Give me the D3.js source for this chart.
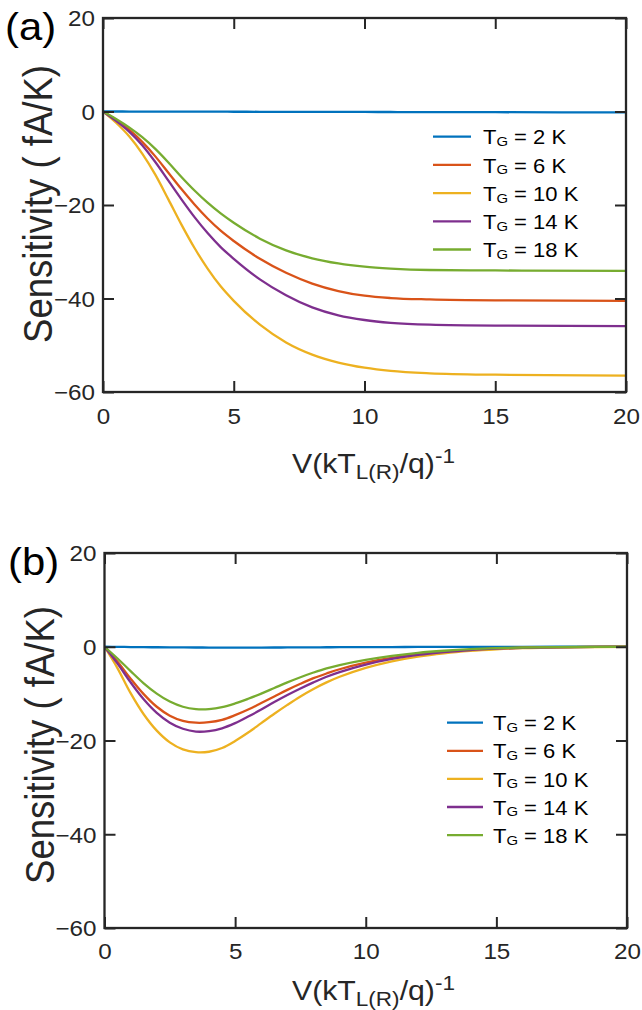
<!DOCTYPE html>
<html>
<head>
<meta charset="utf-8">
<script src="https://cdn.jsdelivr.net/npm/d3@7"></script>
<style>
  body { margin: 0; background: #fff; }
  svg { display: block; }
  text { font-family: "Liberation Sans", Arial, sans-serif; }
</style>
</head>
<body>
<svg id="fig" width="642" height="1010"></svg>
<script>
// ---- data ---------------------------------------------------------------
// gate temperatures shown in the legends
const gateTemps = ["2 K", "6 K", "10 K", "14 K", "18 K"];
const seriesColors = ["#0072BD", "#D95319", "#EDB120", "#7E2F8E", "#77AC30"];

const xTicks = [0, 5, 10, 15, 20];
const yTicks = [20, 0, -20, -40, -60];

// panel (a): normalised bias V(kT/q)^-1 and sensitivity (fA/K)
const biasA = [0, 0.5, 1, 1.5, 2, 2.5, 3, 3.5, 4, 4.5, 5, 6, 7, 8, 9, 10, 11, 12.5, 15, 20];
const sensA_2K  = [0, 0, -0.01, -0.01, -0.02, -0.02, -0.03, -0.03, -0.04, -0.04, -0.05, -0.06, -0.07, -0.08, -0.09, -0.1, -0.11, -0.13, -0.15, -0.2];
const sensA_6K  = [0, -1.8, -3.9, -6.5, -9.6, -13.1, -16.6, -19.9, -22.9, -25.5, -27.7, -31.5, -34.5, -36.8, -38.4, -39.4, -39.9, -40.2, -40.4, -40.5];
const sensA_10K = [0, -2.4, -5.3, -9.0, -13.5, -18.8, -24.2, -29.2, -33.6, -37.4, -40.5, -45.6, -49.4, -52.0, -53.7, -54.8, -55.5, -56.0, -56.3, -56.5];
const sensA_14K = [0, -2.0, -4.3, -7.2, -10.8, -14.8, -18.8, -22.6, -26.0, -29.0, -31.5, -35.9, -39.3, -41.9, -43.6, -44.6, -45.2, -45.6, -45.8, -45.9];
const sensA_18K = [0, -1.6, -3.4, -5.5, -8.0, -10.9, -14.0, -16.9, -19.5, -21.8, -23.8, -27.2, -29.7, -31.4, -32.5, -33.2, -33.6, -33.9, -34.0, -34.1];

// panel (b)
const biasB = [0, 0.5, 1, 1.5, 2, 2.5, 3, 3.5, 4, 4.5, 5, 5.5, 6, 6.5, 7, 7.5, 8, 8.5, 9, 10, 11, 12, 13, 14, 15, 16, 18, 20];
const sensB_2K  = [0, -0.03, -0.06, -0.09, -0.11, -0.13, -0.15, -0.16, -0.17, -0.18, -0.18, -0.18, -0.17, -0.16, -0.15, -0.14, -0.13, -0.11, -0.1, -0.08, -0.06, -0.04, -0.03, -0.02, -0.01, -0.01, 0, 0];
const sensB_6K  = [0, -3.2, -6.8, -10.1, -12.8, -14.7, -15.8, -16.2, -16.1, -15.6, -14.6, -13.4, -12.0, -10.6, -9.2, -7.9, -6.7, -5.7, -4.8, -3.4, -2.4, -1.6, -1.05, -0.65, -0.38, -0.2, -0.06, 0];
const sensB_10K = [0, -4.6, -9.9, -14.4, -17.9, -20.4, -21.9, -22.5, -22.4, -21.6, -20.1, -18.3, -16.3, -14.3, -12.4, -10.6, -9.0, -7.6, -6.4, -4.5, -3.1, -2.1, -1.4, -0.9, -0.55, -0.3, -0.1, 0];
const sensB_14K = [0, -3.6, -7.6, -11.2, -14.1, -16.2, -17.5, -18.1, -18.0, -17.4, -16.3, -14.9, -13.4, -11.8, -10.3, -8.9, -7.6, -6.4, -5.4, -3.8, -2.6, -1.75, -1.15, -0.7, -0.42, -0.23, -0.07, 0];
const sensB_18K = [0, -2.5, -5.2, -7.8, -10.0, -11.7, -12.8, -13.3, -13.3, -12.9, -12.1, -11.1, -10.0, -8.8, -7.6, -6.5, -5.5, -4.6, -3.9, -2.8, -1.95, -1.3, -0.85, -0.52, -0.3, -0.16, -0.05, 0];

// ---- layout -------------------------------------------------------------
const SX = 1.1;            // horizontal text stretch
const ink = "#262626";

const panels = [
  {
    id: "a", tag: "(a)", tagX: 5, tagY: 40,
    left: 103, right: 626, top: 18, bottom: 392,
    tickLabelY: 32, xLabelY: 473, yLabelX: 52, yLabelCY: 204,
    legend: { x1: 433, x2: 471, tx: 483, y0: 136.7, dy: 28.2 },
    curve: d3.curveMonotoneX,
    bias: biasA,
    series: [sensA_2K, sensA_6K, sensA_10K, sensA_14K, sensA_18K]
  },
  {
    id: "b", tag: "(b)", tagX: 8, tagY: 575,
    left: 104.5, right: 627, top: 553, bottom: 928,
    tickLabelY: 31, xLabelY: 1000, yLabelX: 53.5, yLabelCY: 745,
    legend: { x1: 447, x2: 483, tx: 493, y0: 722.7, dy: 28.1 },
    curve: d3.curveCatmullRom.alpha(0.5),
    bias: biasB,
    series: [sensB_2K, sensB_6K, sensB_10K, sensB_14K, sensB_18K]
  }
];

const svg = d3.select("#fig");

panels.forEach(p => {
  const g = svg.append("g").attr("class", "panel-" + p.id);
  const x = d3.scaleLinear().domain([0, 20]).range([p.left, p.right]);
  const y = d3.scaleLinear().domain([-60, 20]).range([p.bottom, p.top]);

  // curves
  const clipId = "clip-" + p.id;
  g.append("clipPath").attr("id", clipId)
    .append("rect")
    .attr("x", p.left).attr("y", p.top)
    .attr("width", p.right - p.left).attr("height", p.bottom - p.top);

  const line = d3.line()
    .x(d => x(d[0]))
    .y(d => y(d[1]))
    .curve(p.curve);

  const curves = g.append("g").attr("clip-path", `url(#${clipId})`);
  p.series.forEach((vals, i) => {
    curves.append("path")
      .datum(p.bias.map((v, j) => [v, vals[j]]))
      .attr("d", line)
      .attr("fill", "none")
      .attr("stroke", seriesColors[i])
      .attr("stroke-width", 2.3)
      .attr("stroke-linejoin", "round");
  });

  // axes: inward ticks on all four sides
  const styleTicks = sel => {
    sel.select(".domain").remove();
    sel.selectAll(".tick line").attr("stroke", ink).attr("stroke-width", 2);
  };

  const bottomAx = g.append("g")
    .attr("transform", `translate(0,${p.bottom})`)
    .call(d3.axisBottom(x).tickValues(xTicks).tickSizeInner(-11).tickSizeOuter(0))
    .call(styleTicks);
  bottomAx.selectAll(".tick text")
    .attr("y", p.tickLabelY).attr("dy", 0)
    .attr("transform", `scale(${SX},1)`)
    .attr("fill", ink).attr("font-size", 22)
    .attr("font-family", "Liberation Sans, Arial, sans-serif");

  const leftAx = g.append("g")
    .attr("transform", `translate(${p.left},0)`)
    .call(d3.axisLeft(y).tickValues(yTicks).tickSizeInner(-11).tickSizeOuter(0))
    .call(styleTicks);
  leftAx.selectAll(".tick text")
    .attr("x", -8 / SX).attr("dy", "0.36em")
    .attr("transform", `scale(${SX},1)`)
    .attr("fill", ink).attr("font-size", 22)
    .attr("font-family", "Liberation Sans, Arial, sans-serif");

  g.append("g")
    .attr("transform", `translate(0,${p.top})`)
    .call(d3.axisTop(x).tickValues(xTicks).tickSizeInner(-11).tickSizeOuter(0).tickFormat(""))
    .call(styleTicks);

  g.append("g")
    .attr("transform", `translate(${p.right},0)`)
    .call(d3.axisRight(y).tickValues(yTicks).tickSizeInner(-11).tickSizeOuter(0).tickFormat(""))
    .call(styleTicks);

  // frame
  g.append("rect")
    .attr("x", p.left).attr("y", p.top)
    .attr("width", p.right - p.left).attr("height", p.bottom - p.top)
    .attr("fill", "none").attr("stroke", ink).attr("stroke-width", 2.3);

  // panel tag
  g.append("text")
    .attr("transform", `translate(${p.tagX},${p.tagY}) scale(${SX},1)`)
    .attr("font-size", 38).attr("fill", "#000")
    .text(p.tag);

  // y-axis title
  g.append("text")
    .attr("transform", `translate(${p.yLabelX},${p.yLabelCY}) scale(${SX},1) rotate(-90)`)
    .attr("text-anchor", "middle")
    .attr("font-size", 36.5).attr("fill", ink)
    .text("Sensitivity ( fA/K)");

  // x-axis title: V(kT_L(R)/q)^-1
  const xt = g.append("text")
    .attr("transform", `translate(292,${p.xLabelY}) scale(${SX},1)`)
    .attr("fill", ink).attr("font-size", 27.5);
  xt.append("tspan").text("V(kT");
  xt.append("tspan").attr("font-size", 20.5).attr("dy", 6).text("L(R)");
  xt.append("tspan").attr("dy", -6).text("/q)");
  xt.append("tspan").attr("font-size", 20.5).attr("dy", -10.5).text("-1");

  // legend
  const lg = g.append("g");
  gateTemps.forEach((t, i) => {
    const ly = p.legend.y0 + i * p.legend.dy;
    lg.append("line")
      .attr("x1", p.legend.x1).attr("x2", p.legend.x2)
      .attr("y1", ly).attr("y2", ly)
      .attr("stroke", seriesColors[i]).attr("stroke-width", 2.3);
    const lt = lg.append("text")
      .attr("transform", `translate(${p.legend.tx},${ly + 7.6}) scale(${SX},1)`)
      .attr("font-size", 20).attr("fill", "#000");
    lt.append("tspan").text("T");
    lt.append("tspan").attr("font-size", 13.5).attr("dy", 1.8).text("G");
    lt.append("tspan").attr("dy", -1.8).text(" = " + t);
  });
});
</script>
</body>
</html>
